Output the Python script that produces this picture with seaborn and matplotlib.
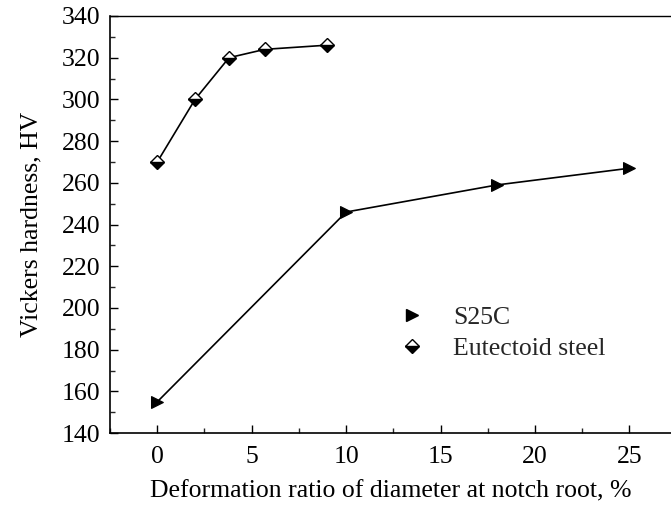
import matplotlib
matplotlib.use("Agg")
import matplotlib.pyplot as plt
from matplotlib.lines import Line2D
from matplotlib.ticker import MultipleLocator
import seaborn as sns
import pandas as pd

# Hardness vs. deformation ratio for the two steels
s25c_ratio = [0, 10, 18, 25]
s25c_hv = [155, 246, 259, 267]
eut_ratio = [0, 2, 3.8, 5.7, 9]
eut_hv = [270, 300, 320, 324, 326]
series_names = ["S25C", "Eutectoid steel"]
x_ticks = [0, 5, 10, 15, 20, 25]
y_ticks = [140, 160, 180, 200, 220, 240, 260, 280, 300, 320, 340]

FS = 18.5
TRI = 8
DIA = 7.5

sns.set_theme(style="white")
plt.rcParams["font.family"] = ["Liberation Serif", "DejaVu Serif"]

fig = plt.figure(figsize=(6.71, 5.15), dpi=100)
ax = fig.add_axes([0.164, 0.159, 0.836, 0.81])

df_s = pd.DataFrame({"ratio": s25c_ratio, "hv": s25c_hv})
df_e = pd.DataFrame({"ratio": eut_ratio, "hv": eut_hv})

sns.lineplot(data=df_s, x="ratio", y="hv", ax=ax, color="black", lw=1.2,
             marker=">", markersize=TRI, markeredgecolor="black",
             markerfacecolor="black", sort=False)
sns.lineplot(data=df_e, x="ratio", y="hv", ax=ax, color="black", lw=1.2,
             marker="D", markersize=DIA, markeredgecolor="black",
             markerfacecolor="black", markerfacecoloralt="white",
             fillstyle="bottom", markeredgewidth=1.0, sort=False)

ax.set_xlim(-2.5, 27.2)
ax.set_ylim(140, 340)
ax.set_xticks(x_ticks)
ax.set_yticks(y_ticks)
ax.xaxis.set_minor_locator(MultipleLocator(2.5))
ax.yaxis.set_minor_locator(MultipleLocator(10))
ax.tick_params(axis="both", which="major", direction="in", length=6, width=1.0,
               labelsize=FS, colors="black", left=True, bottom=True, pad=7)
ax.tick_params(axis="both", which="minor", direction="in", length=3.5, width=1.0,
               left=True, bottom=True)
ax.tick_params(axis="x", which="major", pad=9)

for side in ["left", "bottom", "top"]:
    ax.spines[side].set_color("black")
    ax.spines[side].set_linewidth(1.2)
ax.spines["top"].set_linewidth(1.0)
ax.spines["right"].set_visible(False)

ax.set_xlabel("Deformation ratio of diameter at notch root, %", fontsize=FS,
              color="black", labelpad=9)
ax.set_ylabel("Vickers hardness, HV", fontsize=FS, color="black", labelpad=14)

handles = [
    Line2D([], [], ls="none", marker=">", markersize=TRI, color="black"),
    Line2D([], [], ls="none", marker="D", markersize=DIA, markeredgecolor="black",
           markerfacecolor="black", markerfacecoloralt="white", fillstyle="bottom"),
]
ax.legend(handles, series_names, loc="center left", bbox_to_anchor=(0.492, 0.24),
          borderaxespad=0, frameon=False, fontsize=FS, handlelength=1.2,
          handletextpad=1.0, labelspacing=0.3)

fig.savefig("out.png", dpi=100)
